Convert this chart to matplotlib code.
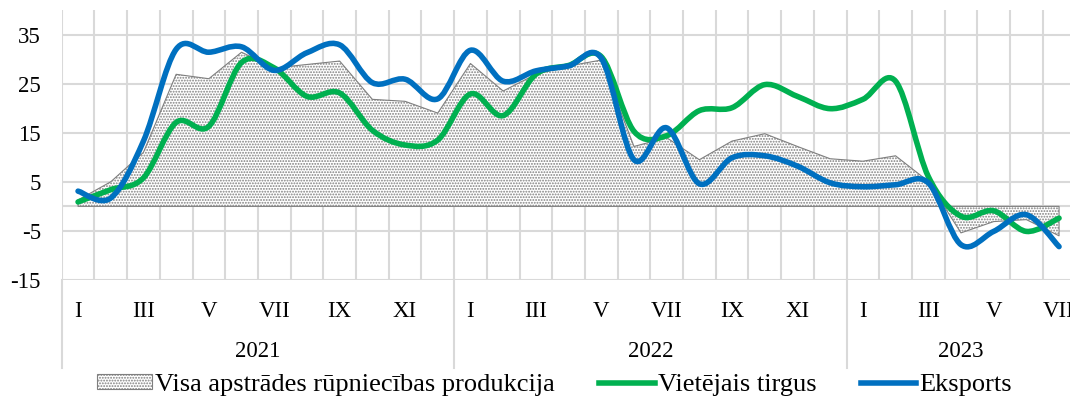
import numpy as np
import matplotlib
matplotlib.use("Agg")
import matplotlib.pyplot as plt
from matplotlib.path import Path
from matplotlib.patches import PathPatch, Patch
from matplotlib.lines import Line2D

plt.rcParams['font.family'] = ['Liberation Serif', 'DejaVu Serif']
plt.rcParams['axes.unicode_minus'] = False
plt.rcParams['hatch.color'] = '#6f6f6f'
plt.rcParams['hatch.linewidth'] = 0.9

# data: Jan 2021 .. Jul 2023, annual change, %
years = ['2021', '2022', '2023']
months_per_year = [12, 12, 7]
month_names = ['I', '', 'III', '', 'V', '', 'VII', '', 'IX', '', 'XI', '']

total = [1.3, 5.0, 11.0, 26.9, 26.0, 31.4, 28.2, 28.9, 29.6, 21.8, 21.4, 19.0,
         29.1, 23.5, 26.9, 28.6, 29.8, 12.2, 14.0, 9.5, 13.3, 14.8, 12.2, 9.7,
         9.2, 10.3, 5.1, -5.4, -3.1, -2.7, -6.0]
domestic = [0.9, 3.4, 5.8, 17.1, 16.3, 29.3, 28.2, 22.4, 23.1, 15.5, 12.5, 13.5,
            22.9, 18.5, 26.9, 28.7, 30.5, 15.3, 14.4, 19.5, 20.1, 24.8, 22.4, 19.9,
            21.8, 25.5, 6.1, -2.0, -0.9, -5.1, -2.4]
export = [3.1, 1.7, 13.3, 32.0, 31.4, 32.5, 27.7, 31.3, 32.9, 25.2, 25.9, 21.9,
          31.8, 25.5, 27.6, 28.6, 30.2, 9.5, 16.0, 4.6, 9.9, 10.3, 8.2, 4.8,
          4.0, 4.4, 4.8, -7.8, -5.1, -1.7, -8.2]

GREEN = '#00b050'
BLUE = '#0070c0'
GRID = '#d9d9d9'
FS = 16.5


def smooth_path(x, y):
    # Excel-style smoothed line as cubic Bezier segments
    pts = np.column_stack([x, y]).astype(float)
    n = len(pts)
    verts = [pts[0]]
    codes = [Path.MOVETO]
    for i in range(n - 1):
        p0 = pts[i - 1] if i > 0 else pts[i]
        p1, p2 = pts[i], pts[i + 1]
        p3 = pts[i + 2] if i + 2 < n else pts[i + 1]
        verts += [p1 + (p2 - p0) / 6, p2 - (p3 - p1) / 6, p2]
        codes += [Path.CURVE4] * 3
    return Path(verts, codes)


n = len(total)
x = np.arange(n)

fig = plt.figure(figsize=(10.7, 4.0), dpi=100)
ax = fig.add_axes([61.7 / 1070, 0.3, 1013.7 / 1070, 0.675])
ax.set_xlim(-0.5, n - 0.5)
ax.set_ylim(-15, 40)

# grid
ax.set_yticks(np.arange(-15, 36, 10))
ax.set_xticks(np.arange(-0.5, n, 1), minor=True)
ax.grid(True, which='minor', axis='x', color=GRID, lw=1.5)
ax.grid(True, which='major', axis='y', color=GRID, lw=1.5)
ax.axhline(0, color=GRID, lw=1.5, zorder=0.5)
ax.set_axisbelow(True)
for s in ax.spines.values():
    s.set_visible(False)

ax.fill_between(x, 0, total, facecolor='white', edgecolor='#7f7f7f',
                hatch='......', lw=0.8, zorder=1)

for vals, col in [(domestic, GREEN), (export, BLUE)]:
    ax.add_patch(PathPatch(smooth_path(x, vals), fill=False, edgecolor=col,
                           lw=4, capstyle='round', joinstyle='round', zorder=3))

# month labels
labels = []
for m in months_per_year:
    labels += month_names[:m]
ax.set_xticks(x)
ax.set_xticklabels(labels, fontsize=FS)
ax.tick_params(axis='x', which='both', length=0, pad=15)
ax.tick_params(axis='y', length=0, pad=15, labelsize=FS)

# year labels and separators below axis
trans = ax.get_xaxis_transform()
start = 0
bounds = [-0.5]
for yr, m in zip(years, months_per_year):
    ax.text(start + (m - 1) / 2, -0.265, yr, transform=trans, ha='center',
            va='center', fontsize=FS)
    start += m
    bounds.append(start - 0.5)
for b in bounds:
    ax.plot([b, b], [0, -0.326], transform=trans, color=GRID, lw=1.5,
            clip_on=False)

handles = [Patch(facecolor='white', edgecolor='#7f7f7f', hatch='......', lw=0.8),
           Line2D([], [], color=GREEN, lw=4),
           Line2D([], [], color=BLUE, lw=4)]
fig.legend(handles, ['Visa apstrādes rūpniecības produkcija', 'Vietējais tirgus',
                     'Eksports'],
           loc='center', bbox_to_anchor=(0.518, 0.037), ncol=3, frameon=False,
           fontsize=19, handlelength=2.1, handletextpad=0.1, columnspacing=1.7,
           handleheight=0.5, borderaxespad=0)

fig.savefig('out.png', dpi=100)
